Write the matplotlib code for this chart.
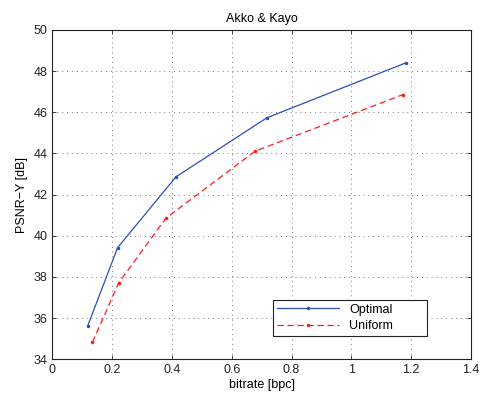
import matplotlib
matplotlib.use("Agg")
import matplotlib.pyplot as plt

# rate-distortion points for the Akko & Kayo sequence
bitrate_optimal = [0.118, 0.218, 0.413, 0.717, 1.182]
psnr_optimal = [35.62, 39.42, 42.86, 45.73, 48.40]

bitrate_uniform = [0.134, 0.222, 0.380, 0.678, 1.173]
psnr_uniform = [34.83, 37.72, 40.86, 44.11, 46.86]

x_ticks = [0, 0.2, 0.4, 0.6, 0.8, 1, 1.2, 1.4]
x_tick_labels = ["0", "0.2", "0.4", "0.6", "0.8", "1", "1.2", "1.4"]
y_ticks = [34, 36, 38, 40, 42, 44, 46, 48, 50]

plt.rcParams["font.family"] = ["Liberation Sans", "DejaVu Sans"]
plt.rcParams["font.size"] = 9

fig = plt.figure(figsize=(4.85, 3.94), dpi=100)
ax = fig.add_axes([0.108, 0.088, 0.863, 0.836])

ax.plot(bitrate_optimal, psnr_optimal, "-", color="#2b4fc0", lw=0.9,
        marker=".", ms=3, label="Optimal")
ax.plot(bitrate_uniform, psnr_uniform, "--", color="#ff1a1a", lw=0.9,
        marker=".", ms=3, dashes=(5, 3), label="Uniform")

ax.set_xlim(0, 1.4)
ax.set_ylim(34, 50)
ax.set_xticks(x_ticks)
ax.set_xticklabels(x_tick_labels)
ax.set_yticks(y_ticks)
ax.tick_params(direction="in", length=3, width=0.6, top=True, right=True,
               colors="#222222", labelcolor="#222222")
for s in ax.spines.values():
    s.set_linewidth(0.8)
    s.set_color("#222222")

ax.grid(True, linestyle=(0, (1, 4)), color="#777777", linewidth=0.7)

ax.set_title("Akko & Kayo", fontsize=9, pad=6)
ax.set_xlabel("bitrate [bpc]", labelpad=2)
ax.set_ylabel("PSNR\u2212Y [dB]", labelpad=4)

leg = ax.legend(loc="lower left", bbox_to_anchor=(0.527, 0.071, 0.368, 0.124),
                mode="expand", fancybox=False, framealpha=1, edgecolor="#222222",
                borderaxespad=0, handlelength=5, borderpad=0.3,
                labelspacing=0.35, fontsize=9)
leg.get_frame().set_linewidth(0.8)

fig.savefig("out.png", dpi=100)
